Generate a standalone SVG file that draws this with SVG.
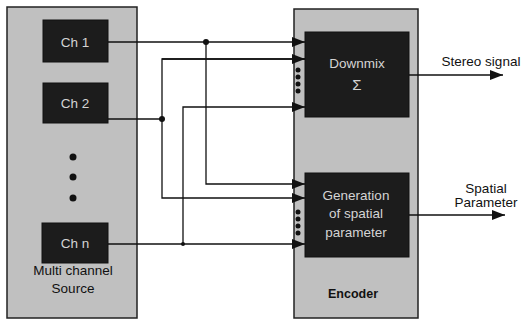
<svg xmlns="http://www.w3.org/2000/svg" width="526" height="320" viewBox="0 0 526 320">
<style>
.panel{fill:#c0c0c0;stroke:#222;stroke-width:1.5}
.box{fill:#1c1c1c;stroke:#111;stroke-width:1}
.wt{font-family:"Liberation Sans",Arial,sans-serif;font-size:13.5px;fill:#d4d4d4;text-anchor:middle}
.bt{font-family:"Liberation Sans",Arial,sans-serif;font-size:13.5px;fill:#111;text-anchor:middle}
.ln{fill:none;stroke:#111;stroke-width:1.3}
.dot{fill:#111}
</style>
<defs>
<marker id="ah" viewBox="0 0 13 10" refX="13" refY="5" markerWidth="13" markerHeight="10" markerUnits="userSpaceOnUse" orient="auto">
<path d="M0,0 L13,5 L0,10 Z" fill="#111"/>
</marker>
</defs>
<rect x="0" y="0" width="526" height="320" fill="#ffffff"/>
<g id="source">
<rect class="panel" x="7" y="7" width="130" height="311"/>
<text class="bt" x="73" y="275">Multi channel</text>
<text class="bt" x="73" y="293">Source</text>
<circle class="dot" cx="73" cy="157" r="3.5"/>
<circle class="dot" cx="73" cy="177" r="3.5"/>
<circle class="dot" cx="73" cy="198" r="3.5"/>
</g>
<g id="ch1">
<rect class="box" x="43" y="20" width="65" height="42"/>
<text class="wt" x="75" y="47">Ch 1</text>
</g>
<g id="ch2">
<rect class="box" x="43" y="83" width="65" height="40"/>
<text class="wt" x="75" y="108">Ch 2</text>
</g>
<g id="chn">
<rect class="box" x="42" y="223" width="66" height="40"/>
<text class="wt" x="75" y="248">Ch n</text>
</g>
<g id="encoder">
<rect class="panel" x="294" y="9" width="124" height="309"/>
<text class="bt" x="353" y="298" style="font-weight:bold;font-size:12.5px">Encoder</text>
<circle class="dot" cx="298" cy="70" r="2.5"/>
<circle class="dot" cx="298" cy="77" r="2.5"/>
<circle class="dot" cx="298" cy="84" r="2.5"/>
<circle class="dot" cx="298" cy="91" r="2.5"/>
<circle class="dot" cx="298" cy="212" r="2.5"/>
<circle class="dot" cx="298" cy="219" r="2.5"/>
<circle class="dot" cx="298" cy="226" r="2.5"/>
<circle class="dot" cx="298" cy="233" r="2.5"/>
</g>
<g id="downmix">
<rect class="box" x="305" y="32" width="104" height="85"/>
<text class="wt" x="357" y="68">Downmix</text>
<text class="wt" x="357" y="90" style="font-size:15px">Σ</text>
</g>
<g id="generation">
<rect class="box" x="305" y="173" width="104" height="84"/>
<text class="wt" x="356" y="200">Generation</text>
<text class="wt" x="356" y="218">of spatial</text>
<text class="wt" x="356" y="237">parameter</text>
</g>
<g id="connectors">
<path class="ln" d="M108,42 H305" marker-end="url(#ah)"/>
<path class="ln" d="M206,42 V184 H305" marker-end="url(#ah)"/>
<path class="ln" d="M108,119 H162"/>
<path class="ln" d="M305,59 H162 V198 H305" marker-end="url(#ah)"/>
<path class="ln" d="M162,59 H305" marker-end="url(#ah)"/>
<path class="ln" d="M108,244 H305" marker-end="url(#ah)"/>
<path class="ln" d="M183,244 V107 H305" marker-end="url(#ah)"/>
<path class="ln" d="M409,75 H503" marker-end="url(#ah)"/>
<path class="ln" d="M409,215 H505" marker-end="url(#ah)"/>
<circle class="dot" cx="206" cy="42" r="3"/>
<circle class="dot" cx="162" cy="119" r="3"/>
<circle class="dot" cx="183" cy="244" r="2"/>
</g>
<g id="labels">
<text class="bt" x="481" y="66">Stereo signal</text>
<text class="bt" x="486" y="193">Spatial</text>
<text class="bt" x="486" y="207">Parameter</text>
</g>
</svg>
